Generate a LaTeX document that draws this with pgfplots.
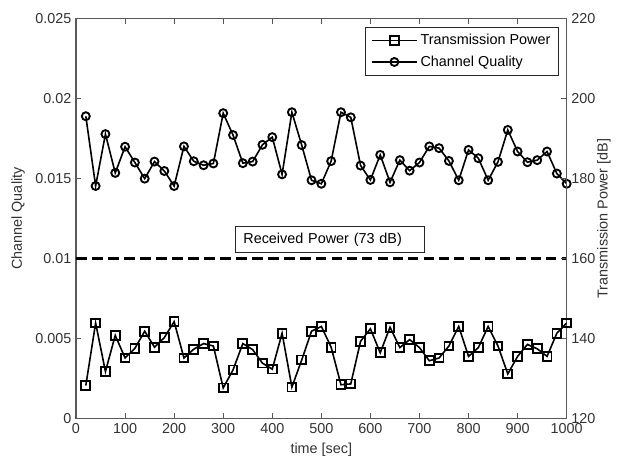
\documentclass[border=0pt]{standalone}
\usepackage{pgfplots}
\pgfplotsset{compat=1.18}
\usepackage{pgfplotstable}
\usepackage{fontspec}
\setmainfont{Liberation Sans}

\pgfplotstableread{
t cq
20 0.01891
40 0.01454
60 0.01779
80 0.01536
100 0.01700
120 0.01601
140 0.01500
160 0.01607
180 0.01548
200 0.01454
220 0.01702
240 0.01609
260 0.01584
280 0.01595
300 0.01910
320 0.01773
340 0.01597
360 0.01607
380 0.01712
400 0.01760
420 0.01527
440 0.01916
460 0.01710
480 0.01490
500 0.01468
520 0.01610
540 0.01916
560 0.01884
580 0.01582
600 0.01492
620 0.01649
640 0.01477
660 0.01616
680 0.01550
700 0.01601
720 0.01702
740 0.01691
760 0.01611
780 0.01490
800 0.01680
820 0.01628
840 0.01490
860 0.01605
880 0.01805
900 0.01670
920 0.01603
940 0.01616
960 0.01670
980 0.01532
1000 0.01468
}\cqdata

\pgfplotstableread{
t tp
20 128.2
40 143.85
60 131.7
80 140.75
100 135.1
120 137.5
140 141.8
160 137.8
180 140.2
200 144.2
220 135.1
240 137.3
260 138.7
280 138.1
300 127.6
320 132.1
340 138.7
360 137.2
380 133.8
400 132.3
420 141.3
440 127.8
460 134.6
480 141.8
500 143.0
520 137.8
540 128.4
560 128.6
580 139.3
600 142.4
620 136.4
640 142.8
660 137.7
680 139.7
700 137.7
720 134.4
740 135.1
760 138.1
780 143.0
800 135.5
820 137.7
840 143.0
860 138.1
880 131.1
900 135.5
920 138.5
940 137.4
960 135.5
980 141.3
1000 143.85
}\tpdata

\begin{document}
\begin{tikzpicture}[font=\fontsize{10.8}{13}\selectfont]
\pgfplotsset{
  every axis/.append style={
    scale only axis, width=368pt, height=299.5pt,
    xmin=0, xmax=1000, xtick={0,100,...,1000},
    axis line style={black!65, line width=0.8pt},
    tick style={black!65, line width=0.7pt},
    tick align=inside, major tick length=4pt,
    ticklabel style={text=black!80},
    label style={text=black!80},
    scaled y ticks=false, scaled x ticks=false,
    /pgf/number format/assume math mode=true,
    /pgf/number format/1000 sep={},
  }
}
\begin{axis}[
  at={(0,0)}, anchor=south west,
  ymin=0, ymax=0.025,
  ytick={0,0.005,0.01,0.015,0.02,0.025},
  yticklabels={0,0.005,0.01,0.015,0.02,0.025},
  ytick pos=left, xtick pos=both, xticklabel pos=lower,
  xlabel={time [sec]}, ylabel={Channel Quality},
  xlabel style={at={(axis description cs:0.5,-0.0795)}, anchor=center},
  ylabel style={at={(axis description cs:-0.118,0.5)}, anchor=center},
]
\addplot[black, line width=2.6pt, dash pattern=on 8pt off 4pt] coordinates {(0,0.01) (490,0.01)};
\addplot[black, line width=1.7pt, dash pattern=on 7.5pt off 4pt] coordinates {(490,0.01) (1000,0.01)};
\addplot[black, line width=1.2pt, mark=o, mark size=3pt, mark options={solid, line width=1.4pt}] table[x=t,y=cq]{\cqdata};
\node[draw=black!85, line width=0.6pt, anchor=west, minimum height=20pt, inner xsep=6pt, text width=130pt, align=left, fill=white]
  at (axis cs:324,0.0112) {Received Power (73 dB)};
\end{axis}
\begin{axis}[
  at={(0,0)}, anchor=south west,
  axis x line=none, axis y line*=right,
  ymin=120, ymax=220, ytick={120,140,...,220},
  ylabel={Transmission Power [dB]},
  ylabel style={at={(axis description cs:1.076,0.5)}, anchor=center, rotate=0},
  legend style={at={(0.984,0.98)}, anchor=north east, draw=black!85, line width=0.6pt,
    font=\fontsize{10.8}{13}\selectfont, row sep=0pt, inner xsep=4pt, inner ysep=2pt,
    nodes={minimum height=16pt, inner sep=2pt}},
  legend cell align=left,
  legend image code/.code={\draw[line width=1.2pt, mark repeat=2, mark phase=2, mark options={solid, line width=1.4pt}] plot coordinates {(0pt,0pt) (17pt,0pt) (34pt,0pt)};},
]
\addplot[black, line width=1.2pt, mark=square, mark size=3.3pt, mark options={solid, line width=1.4pt}] table[x=t,y=tp]{\tpdata};
\addlegendentry{Transmission Power}
\addlegendimage{black, line width=1.2pt, mark=o, mark size=3pt, mark options={solid, line width=1.4pt}}
\addlegendentry{Channel Quality}
\end{axis}
\pgfresetboundingbox
\useasboundingbox (-57pt,-31.3pt) rectangle (411pt,313.7pt);
\end{tikzpicture}
\end{document}
